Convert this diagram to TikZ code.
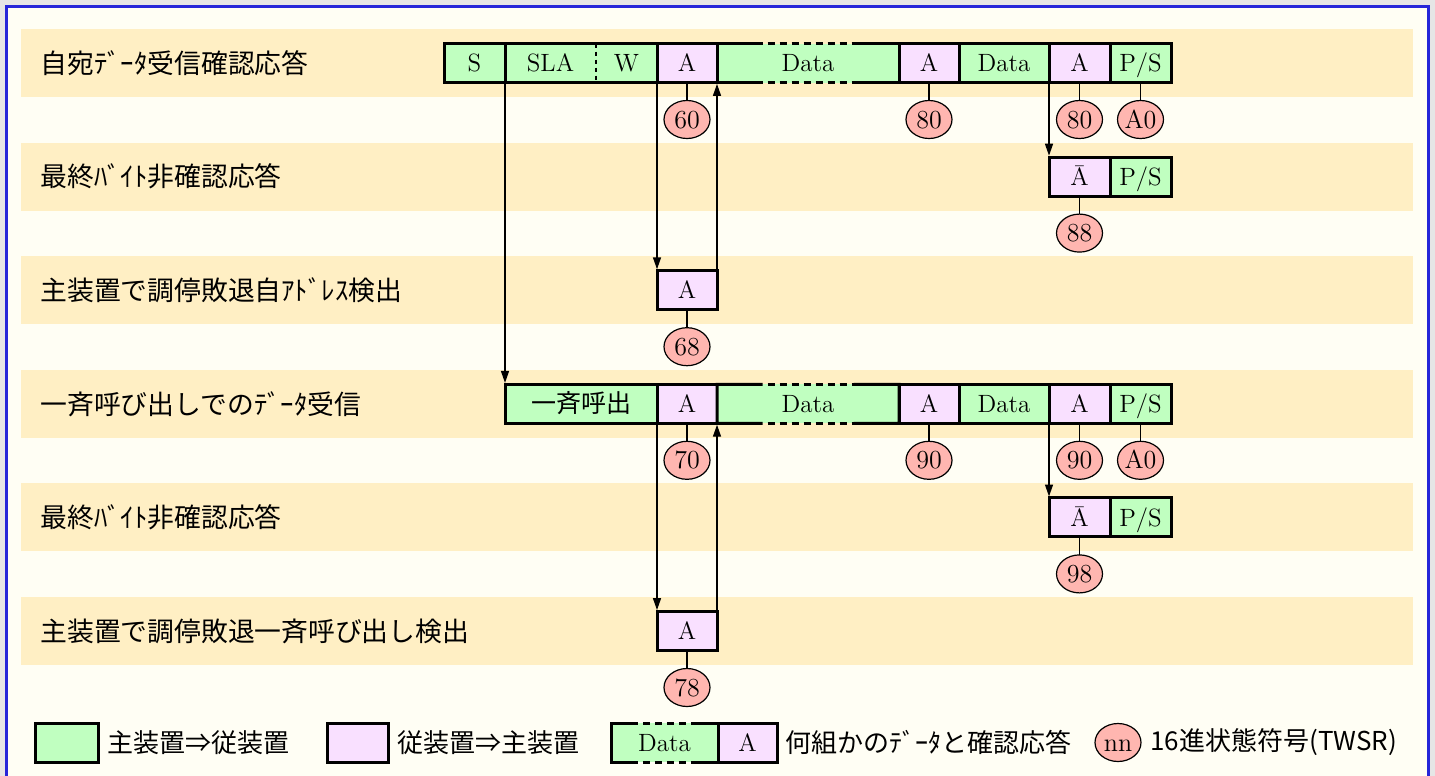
\documentclass[tikz,border=0pt]{standalone}
\usepackage{fontspec}
\newfontfamily\jp{Noto Sans CJK JP}
\usetikzlibrary{arrows.meta,positioning,shapes.geometric,calc}

\definecolor{pagebg}{HTML}{FFFEF4}
\definecolor{outbg}{HTML}{E6E6E6}
\definecolor{framebl}{HTML}{2626D9}
\definecolor{bandcol}{HTML}{FFEFC4}
\definecolor{mastercol}{HTML}{C0FFC0}
\definecolor{slavecol}{HTML}{F9E0FF}
\definecolor{codecol}{HTML}{FFB6B0}

% border of a "several data bytes" cell: solid ends, dashed middle
\newcommand{\databorder}[1]{%
  \draw[cellline] ($(#1.north west)!0.25!(#1.north east)$) -- (#1.north west)
    -- (#1.south west) -- ($(#1.south west)!0.25!(#1.south east)$);
  \draw[cellline] ($(#1.north east)!0.25!(#1.north west)$) -- (#1.north east)
    -- (#1.south east) -- ($(#1.south east)!0.25!(#1.south west)$);
  \draw[cellline, dash pattern=on 3.5pt off 2.5pt, dash phase=3.5pt]
    ($(#1.north west)!0.25!(#1.north east)$) -- ($(#1.north west)!0.75!(#1.north east)$);
  \draw[cellline, dash pattern=on 3.5pt off 2.5pt, dash phase=3.5pt]
    ($(#1.south west)!0.25!(#1.south east)$) -- ($(#1.south west)!0.75!(#1.south east)$);
}

\begin{document}
\begin{tikzpicture}[
  x=0.5pt, y=-0.5pt,
  cellline/.style={draw=black, line width=1.5pt},
  mcell/.style={draw=black, line width=1.5pt, fill=mastercol, minimum height=19.5pt,
    minimum width=30.5pt, inner sep=0pt, outer sep=0pt, text height=8.6pt, text depth=0pt,
    font=\fontsize{12.5}{13}\selectfont},
  scell/.style={mcell, fill=slavecol},
  dcell/.style={mcell, draw=none},
  code/.style={ellipse, draw=black, line width=0.6pt, fill=codecol, minimum width=23pt,
    minimum height=19pt, inner sep=0pt, outer sep=0pt, text height=8.6pt, text depth=0pt,
    font=\fontsize{13}{13}\selectfont},
  stem/.style={line width=0.6pt},
  arrow/.style={-{Triangle[length=6pt,width=4pt]}, line width=0.7pt, shorten >=0.7pt},
  rowlabel/.style={anchor=west, inner sep=0pt, font=\jp\fontsize{13.4}{14}\selectfont},
  legtext/.style={inner sep=0pt, font=\jp\fontsize{13}{14}\selectfont}
]

% page and frame
\useasboundingbox (0,0) rectangle (1435,776);
\clip (0,0) rectangle (1435,776);
\fill[outbg] (0,0) rectangle (1435,776);
\draw[framebl, line width=1.5pt, fill=pagebg] (6,6) rectangle (1428,800);

% row bands
\foreach \r in {0,...,5}
  \fill[bandcol] (21,{29+113.6*\r}) rectangle (1413,{97+113.6*\r});

% row labels
\node[rowlabel] (lab1) at (40,63) {自宛ﾃﾞｰﾀ受信確認応答};
\node[rowlabel] (lab2) at (40,176.6) {最終ﾊﾞｲﾄ非確認応答};
\node[rowlabel] (lab3) at (40,290.2) {主装置で調停敗退自ｱﾄﾞﾚｽ検出};
\node[rowlabel] (lab4) at (40,403.8) {一斉呼び出しでのﾃﾞｰﾀ受信};
\node[rowlabel] (lab5) at (40,517.4) {最終ﾊﾞｲﾄ非確認応答};
\node[rowlabel] (lab6) at (40,631) {主装置で調停敗退一斉呼び出し検出};

% 1. own address, data receive
\node[mcell] (s1) at (474.5,63) {S};
\node[mcell, draw=none, minimum width=45.5pt, right=0pt of s1] (sla1) {SLA};
\node[mcell, draw=none, right=0pt of sla1] (w1) {W};
\draw[cellline] (sla1.north west) rectangle (w1.south east);
\draw[line width=0.6pt, dash pattern=on 2pt off 2pt] (sla1.north east) -- (sla1.south east);
\node[scell, minimum width=30pt, right=0pt of w1] (a1) {A};
\node[dcell, minimum width=91pt, right=0pt of a1] (d1) {Data};
\databorder{d1}
\node[scell, minimum width=30pt, right=0pt of d1] (a2) {A};
\node[mcell, minimum width=45pt, right=0pt of a2] (d2) {Data};
\node[scell, right=0pt of d2] (a3) {A};
\node[mcell, right=0pt of a3] (p1) {P/S};

\node[code, below=9pt of a1] (c60) {60};
\node[code, below=9pt of a2] (c80a) {80};
\node[code, below=9pt of a3] (c80b) {80};
\node[code, below=9pt of p1] (ca0a) {A0};
\draw[stem] (a1) -- (c60);
\draw[stem] (a2) -- (c80a);
\draw[stem] (a3) -- (c80b);
\draw[stem] (p1) -- (ca0a);

% 2. last byte, no ack
\node[scell] (nb1) at (1079.5,176.6) {\=A};
\node[mcell, right=0pt of nb1] (p2) {P/S};
\node[code, below=9pt of nb1] (c88) {88};
\draw[stem] (nb1) -- (c88);

% 3. arbitration lost, own address
\node[scell, minimum width=30pt] (l1) at (687,290.2) {A};
\node[code, below=9pt of l1] (c68) {68};
\draw[stem] (l1) -- (c68);

% 4. general call, data receive
\node[mcell, minimum width=76pt, text height=9.6pt, text depth=1.2pt,
  font=\jp\fontsize{12.5}{13}\selectfont] (g1) at (581,403.8) {一斉呼出};
\node[scell, minimum width=30pt, right=0pt of g1] (ga1) {A};
\node[dcell, minimum width=91pt, right=0pt of ga1] (gd1) {Data};
\databorder{gd1}
\node[scell, minimum width=30pt, right=0pt of gd1] (ga2) {A};
\node[mcell, minimum width=45pt, right=0pt of ga2] (gd2) {Data};
\node[scell, right=0pt of gd2] (ga3) {A};
\node[mcell, right=0pt of ga3] (gp1) {P/S};

\node[code, below=9pt of ga1] (c70) {70};
\node[code, below=9pt of ga2] (c90a) {90};
\node[code, below=9pt of ga3] (c90b) {90};
\node[code, below=9pt of gp1] (ca0b) {A0};
\draw[stem] (ga1) -- (c70);
\draw[stem] (ga2) -- (c90a);
\draw[stem] (ga3) -- (c90b);
\draw[stem] (gp1) -- (ca0b);

% 5. last byte, no ack
\node[scell] (gnb1) at (1079.5,517.4) {\=A};
\node[mcell, right=0pt of gnb1] (gp2) {P/S};
\node[code, below=9pt of gnb1] (c98) {98};
\draw[stem] (gnb1) -- (c98);

% 6. arbitration lost, general call
\node[scell, minimum width=30pt] (gl1) at (687,631) {A};
\node[code, below=9pt of gl1] (c78) {78};
\draw[stem] (gl1) -- (c78);

% arrows
\draw[arrow] (s1.south east) -- (g1.north west);
\draw[arrow] (w1.south east) -- (l1.north west);
\draw[arrow] (l1.north east) -- (a1.south east);
\draw[arrow] (d2.south east) -- (nb1.north west);
\draw[arrow] (g1.south east) -- (gl1.north west);
\draw[arrow] (gl1.north east) -- (ga1.south east);
\draw[arrow] (gd2.south east) -- (gnb1.north west);

% legend
\node[mcell, minimum width=31.5pt] (lgm) at (66.5,742.5) {};
\node[legtext, right=4.5pt of lgm] (lgmt) {主装置⇒従装置};
\node[scell, minimum width=30.5pt] (lgs) at (357.5,742.5) {};
\node[legtext, right=4.5pt of lgs] (lgst) {従装置⇒主装置};
\node[dcell, minimum width=53.5pt] (lgd) at (664.5,742.5) {Data};
\databorder{lgd}
\node[scell, minimum width=29.5pt, right=0pt of lgd] (lga) {A};
\node[legtext, right=4pt of lga] (lgdt) {何組かのﾃﾞｰﾀと確認応答};
\node[code] (lgc) at (1118,742.5) {nn};
\node[legtext, right=4.5pt of lgc] (lgct) {16進状態符号(TWSR)};

\end{tikzpicture}
\end{document}
